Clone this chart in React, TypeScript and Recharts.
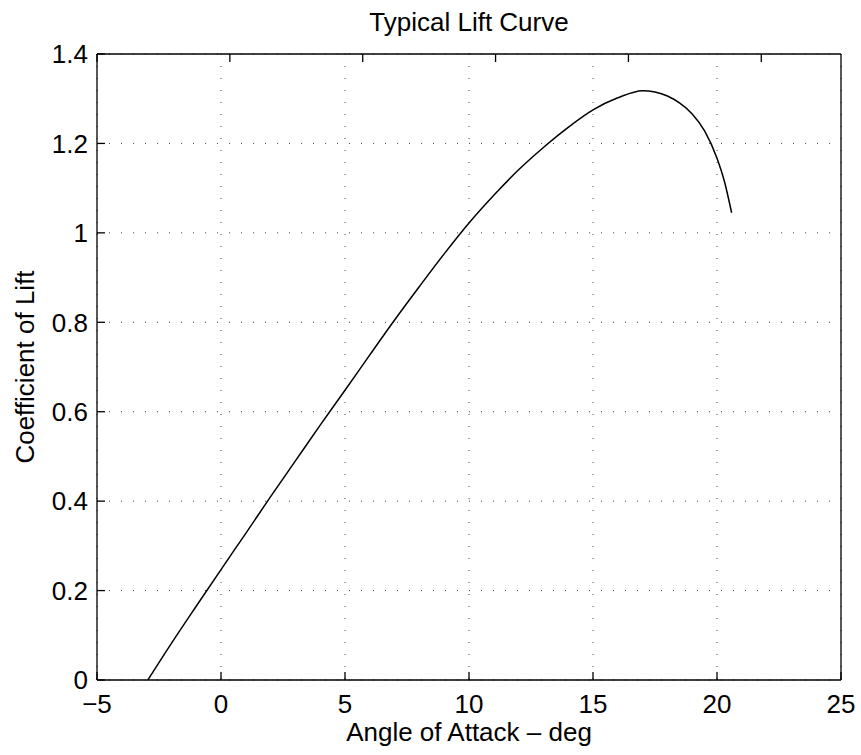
import { LineChart, Line, XAxis, YAxis, CartesianGrid, ReferenceLine } from 'recharts';

// angle of attack (deg) and lift coefficient
const alphaDeg = [
  -2.95, -2, -1, 0, 1, 2, 3, 4, 5, 6, 7, 8, 9, 10, 11, 12, 13, 14, 15, 16, 17,
  17.5, 18, 18.5, 19, 19.5, 20, 20.3, 20.59,
];
const liftCoeff = [
  0, 0.082, 0.165, 0.247, 0.328, 0.41, 0.49, 0.57, 0.648, 0.727, 0.805, 0.88,
  0.953, 1.022, 1.084, 1.141, 1.191, 1.236, 1.275, 1.302, 1.318,
  1.315, 1.306, 1.29, 1.266, 1.228, 1.167, 1.115, 1.045,
];
const xTicks = [-5, 0, 5, 10, 15, 20, 25];
const yTicks = [0, 0.2, 0.4, 0.6, 0.8, 1, 1.2, 1.4];

const chartData = alphaDeg.map((a, i) => ({ alpha: a, cl: liftCoeff[i] }));

const FONT = '"Liberation Sans", Arial, Helvetica, sans-serif';
const fmt = (v: number) => String(v).replace('-', '\u2212');

export default function App() {
  const tickStyle = { fill: '#000', fontSize: 26, fontFamily: FONT };
  return (
    <div style={{ width: 861, height: 755, background: '#fff' }}>
      <style>{`body{margin:0;background:#fff}`}</style>
      <LineChart
        width={861}
        height={755}
        data={chartData}
        margin={{ top: 0, right: 19, bottom: 0, left: 0 }}
      >
        <CartesianGrid
          stroke="#444"
          strokeDasharray="1 11"
          horizontalValues={yTicks}
          verticalValues={xTicks}
        />
        <XAxis
          dataKey="alpha"
          type="number"
          domain={[-5, 25]}
          ticks={xTicks}
          allowDataOverflow
          height={75}
          stroke="#000"
          strokeWidth={1.3}
          tickSize={-8}
          tickMargin={23}
          tick={tickStyle}
          tickFormatter={fmt}
          label={{
            value: 'Angle of Attack \u2013 deg',
            position: 'insideBottom',
            offset: 14,
            fill: '#000',
            fontSize: 26,
            fontFamily: FONT,
          }}
        />
        <XAxis
          xAxisId="top"
          orientation="top"
          type="number"
          domain={[-5, 25]}
          ticks={xTicks}
          height={54}
          axisLine={false}
          stroke="#000"
          strokeWidth={1.3}
          tickSize={-8}
          tickFormatter={() => ''}
          label={{
            value: 'Typical Lift Curve',
            position: 'insideTop',
            offset: 13,
            fill: '#000',
            fontSize: 26,
            fontFamily: FONT,
          }}
        />
        <YAxis
          type="number"
          domain={[0, 1.4]}
          ticks={yTicks}
          allowDataOverflow
          width={97}
          stroke="#000"
          strokeWidth={1.3}
          tickSize={-8}
          tickMargin={17}
          tick={tickStyle}
          tickFormatter={fmt}
          label={{
            value: 'Coefficient of Lift',
            angle: -90,
            position: 'center',
            dx: -24,
            fill: '#000',
            fontSize: 26,
            fontFamily: FONT,
          }}
        />
        <YAxis
          yAxisId="right"
          orientation="right"
          type="number"
          domain={[0, 1.4]}
          ticks={yTicks}
          width={1}
          axisLine={false}
          stroke="#000"
          strokeWidth={1.3}
          tickSize={-8}
          tickFormatter={() => ''}
        />
        <ReferenceLine y={1.4} stroke="#000" strokeWidth={1.3} />
        <ReferenceLine x={25} stroke="#000" strokeWidth={1.3} />
        <Line
          type="monotone"
          dataKey="cl"
          stroke="#000"
          strokeWidth={1.5}
          dot={false}
          activeDot={false}
          isAnimationActive={false}
        />
      </LineChart>
    </div>
  );
}
